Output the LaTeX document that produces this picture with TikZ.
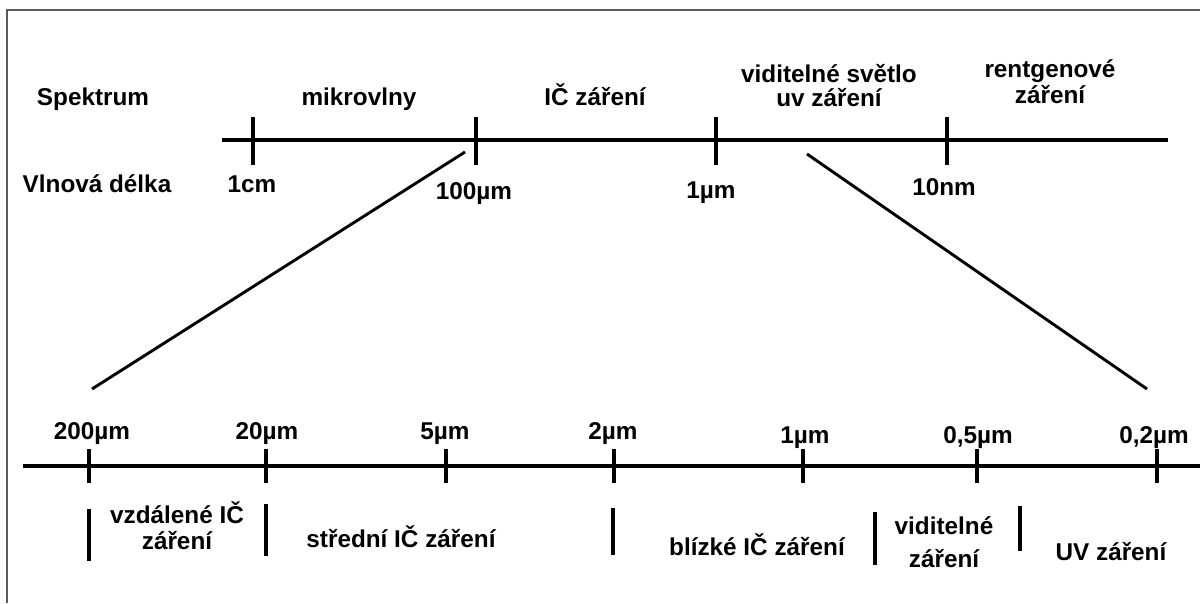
\documentclass[tikz,border=0pt]{standalone}
\usepackage{fontspec}
\setmainfont{Liberation Sans}
% two stacked, centred lines; first line carries the baseline
\newcommand{\twolines}[3][0pt]{\begin{tabular}[t]{@{}c@{}}#2\\[#1]#3\end{tabular}}
\begin{document}
\begin{tikzpicture}[x=1pt,y=-1pt,
  txt/.style={font=\fontsize{24.3}{24}\selectfont\bfseries, anchor=base, inner sep=0pt},
  axisline/.style={line width=3.1pt},
  tickmark/.style={line width=3.1pt},
  zoomline/.style={line width=2.9pt},
  frameline/.style={draw=black!65, line width=2.5pt}]

% canvas
\fill[white] (0,0) rectangle (1200,603);
\useasboundingbox (0,0) rectangle (1200,603);
\draw[frameline] (7,603) -- (7,10) -- (1200,10);

% ---------- overview scale ----------
\coordinate (ta0) at (222,140);
\coordinate (ta1) at (1168,140);
\draw[axisline] (ta0) -- (ta1);
\foreach \x/\n in {253/a,476/b,716/c,947/d}{
  \coordinate (tt\n) at (\x,117);
  \coordinate (tb\n) at (\x,165);
  \draw[tickmark] (tt\n) -- (tb\n);
}

\node[txt] (spek) at (93,105) {Spektrum};
\node[txt] (mikro) at (359,105) {mikrovlny};
\node[txt] (ic) at (595,105) {IČ záření};
\node[txt] (vis) at (829,82) {\twolines[-1pt]{viditelné světlo}{uv záření}};
\node[txt] (rtg) at (1050,77) {\twolines[1pt]{rentgenové}{záření}};

\node[txt] (vd) at (97,192) {Vlnová délka};
\node[txt] (l1cm) at (252,192) {1cm};
\node[txt] (l100) at (474,199) {100µm};
\node[txt] (l1um) at (711,198) {1µm};
\node[txt] (l10nm) at (944,195) {10nm};

% ---------- zoom lines ----------
\coordinate (zl0) at (465,152);
\coordinate (zl1) at (92,389);
\coordinate (zr0) at (807,154);
\coordinate (zr1) at (1147,389);
\draw[zoomline] (zl0) -- (zl1);
\draw[zoomline] (zr0) -- (zr1);

% ---------- detailed scale ----------
\coordinate (ba0) at (23,466);
\coordinate (ba1) at (1202,466);
\draw[axisline] (ba0) -- (ba1);
\foreach \x/\n in {89/a,266/b,446/c,614/d,803/e,977/f,1157/g}{
  \coordinate (bt\n) at (\x,449);
  \coordinate (bb\n) at (\x,483);
  \draw[tickmark] (bt\n) -- (bb\n);
}

\node[txt] (d200) at (92,439) {200µm};
\node[txt] (d20) at (267,439) {20µm};
\node[txt] (d5) at (445,439) {5µm};
\node[txt] (d2) at (613,439) {2µm};
\node[txt] (d1) at (805,443) {1µm};
\node[txt] (d05) at (978,443) {0,5µm};
\node[txt] (d02) at (1154,443) {0,2µm};

% band separators
\foreach \x/\ya/\yb/\n in {89/509/561/a,266/504/556/b,613/508/555/c,875/512/565/d,1020/506/551/e}{
  \coordinate (sa\n) at (\x,\ya);
  \coordinate (sb\n) at (\x,\yb);
  \draw[tickmark] (sa\n) -- (sb\n);
}

\node[txt] (far) at (177,523) {\twolines[1pt]{vzdálené IČ}{záření}};
\node[txt] (mid) at (401,547) {střední IČ záření};
\node[txt] (near) at (757,555) {blízké IČ záření};
\node[txt] (visb) at (944,534) {\twolines[8pt]{viditelné}{záření}};
\node[txt] (uvb) at (1111,560) {UV záření};
\end{tikzpicture}
\end{document}
